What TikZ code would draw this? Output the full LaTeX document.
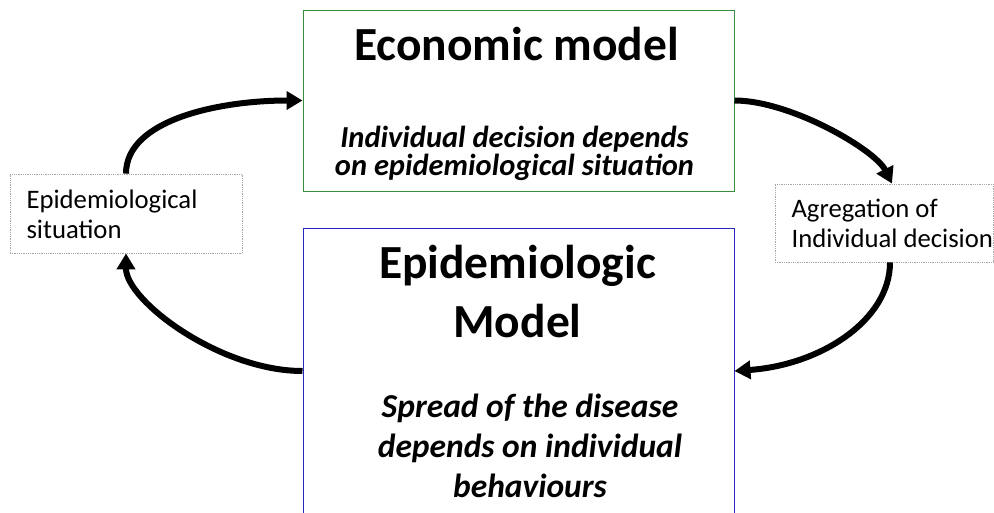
\documentclass[tikz,border=0pt]{standalone}
\usepackage{fontspec}
\setmainfont{Carlito}
\usetikzlibrary{arrows.meta}

\definecolor{econgreen}{RGB}{56,142,60}
\definecolor{epiblue}{RGB}{40,40,190}

\tikzstyle{model-block} = [draw, rectangle, line width=1pt, minimum width=431pt, inner sep=0pt]
\tikzstyle{econ-block} = [model-block, draw=econgreen, minimum height=181pt]
\tikzstyle{epi-block} = [model-block, draw=epiblue, minimum height=286pt]
\tikzstyle{state-block} = [draw=gray!70, densely dotted, rectangle, line width=0.8pt, inner sep=0pt]
\tikzstyle{title} = [anchor=base, align=center, font=\fontsize{47.5}{59}\selectfont\bfseries]
\tikzstyle{subtitle} = [anchor=base, align=center, font=\fontsize{30.5}{28}\selectfont\bfseries\itshape]
\tikzstyle{state-text} = [anchor=base west, align=left, font=\fontsize{26.7}{30}\selectfont]
\tikzstyle{loop-arrow} = [line width=6pt, -{Triangle[length=16pt,width=18pt]}]

\begin{document}
\begin{tikzpicture}[x=1pt, y=-1pt]
	\useasboundingbox (0,0) rectangle (994,512);

	\node [econ-block] (econ) at (518.5,100.5) {};
	\node [epi-block] (epi) at (518.5,371) {};
	\node [state-block, minimum width=232pt, minimum height=79pt] (situation) at (126,213.5) {};
	\node [state-block, minimum width=218pt, minimum height=78pt] (aggregation) at (884,223) {};

	% base of a multi-line node sits on its last line
	\node [title] (econ-title) at (516.5,60) {Economic model};
	\node [subtitle] (econ-text) at (514.5,175) {Individual decision depends\\on epidemiological situation};
	\node [title] (epi-title) at (517.5,337) {Epidemiologic\\Model};
	\node [subtitle, font=\fontsize{33.5}{40}\selectfont\bfseries\itshape] (epi-text) at (530,497) {Spread of the disease\\depends on individual\\behaviours};
	\node [state-text] (situation-text) at (23,238) {Epidemiological\\situation};
	\node [state-text] (aggregation-text) at (788,247) {Agregation of\\Individual decision};

	\draw [loop-arrow] (situation.north) .. controls +(0,-54) and +(-83,0) .. (econ.west);
	\draw [loop-arrow] (econ.east) .. controls +(56,0) and +(-17,-34) .. ([xshift=8pt]aggregation.north);
	\draw [loop-arrow] ([xshift=6pt]aggregation.south) .. controls +(0,58) and +(86,-6) .. (epi.east);
	\draw [loop-arrow] (epi.west) .. controls +(-83,0) and +(0,47) .. (situation.south);

\end{tikzpicture}
\end{document}
